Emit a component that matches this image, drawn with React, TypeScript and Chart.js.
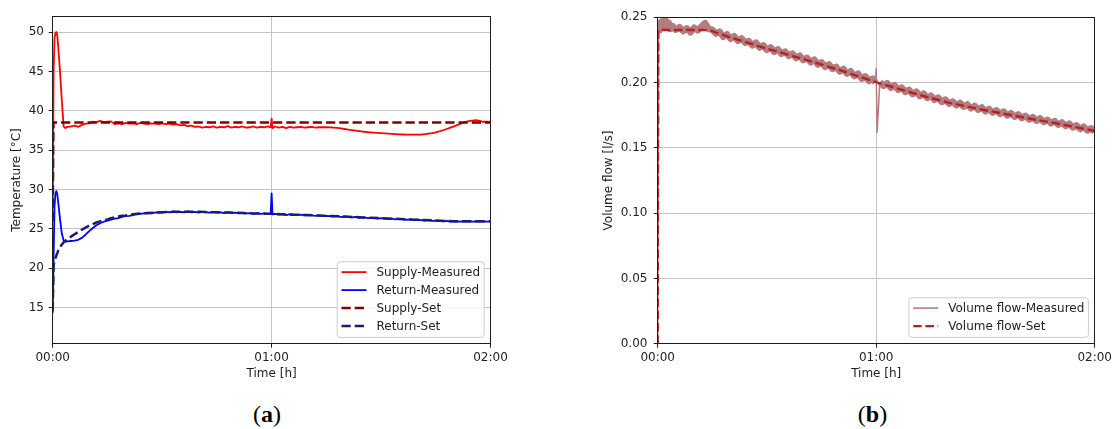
import React, { useEffect, useRef } from "react";
import { Chart, registerables } from "chart.js";
Chart.register(...registerables);

// ---------- data ----------
const TIME_MIN = [
  0, 0.25, 0.5, 0.75, 1, 1.25, 1.5, 2, 2.5, 3, 3.5, 4,
  5, 6, 7, 8, 9, 10, 11, 12, 13, 14,
  15, 16, 17, 18, 19, 20, 21, 22, 23, 24,
  25, 26, 27, 28, 29, 30, 31, 32, 33, 34,
  35, 36, 37, 38, 39, 40, 41, 42, 43, 44,
  45, 46, 47, 48, 49, 50, 51, 52, 53, 54,
  55, 56, 57, 58, 59, 59.75, 60, 60.25,
  61, 62, 63, 64, 65, 66, 67, 68, 69, 70,
  71, 72, 73, 74, 75, 76, 77, 78, 79, 80,
  81, 82, 83, 84, 85, 86, 87, 88, 89, 90,
  91, 92, 93, 94, 95, 96, 97, 98, 99, 100,
  101, 102, 103, 104, 105, 106, 107, 108, 109, 110,
  111, 112, 113, 114, 115, 116, 117, 118, 119, 120,
];

const SUPPLY_MEASURED = [
  26.0, 45.0, 49.2, 49.9, 50.0, 49.6, 48.2, 45.0, 41.3, 38.0, 37.8, 37.95,
  38.0, 38.1, 37.95, 38.2, 38.35, 38.4, 38.6, 38.55, 38.7, 38.55,
  38.6, 38.65, 38.3, 38.4, 38.3, 38.45, 38.35, 38.4, 38.3, 38.45,
  38.35, 38.3, 38.4, 38.35, 38.3, 38.4, 38.3, 38.35, 38.25, 38.3,
  38.15, 38.2, 38.05, 38.1, 37.95, 38.0, 37.85, 37.95, 37.9, 38.0,
  37.85, 37.95, 37.9, 38.05, 37.85, 37.95, 37.9, 38.0, 37.85, 37.9,
  38.0, 37.85, 37.95, 37.9, 38.0, 37.9, 39.0, 37.8,
  38.0, 37.85, 37.95, 37.8, 37.95, 37.85, 37.9, 37.95, 37.85, 37.9,
  37.95, 37.85, 37.9, 37.9, 37.9, 37.88, 37.85, 37.82, 37.75, 37.68,
  37.6, 37.55, 37.48, 37.42, 37.36, 37.3, 37.26, 37.22, 37.18, 37.15,
  37.12, 37.08, 37.05, 37.02, 37.0, 36.98, 36.97, 36.96, 36.96, 36.97,
  36.98, 37.02, 37.08, 37.15, 37.25, 37.38, 37.52, 37.68, 37.85, 38.02,
  38.2, 38.38, 38.55, 38.68, 38.75, 38.8, 38.7, 38.6, 38.62, 38.58,
];

const RETURN_MEASURED = [
  14.3, 21.5, 27.8, 29.5, 29.8, 29.4, 28.4, 26.3, 24.4, 23.5, 23.35, 23.4,
  23.45, 23.5, 23.6, 23.85, 24.25, 24.7, 25.1, 25.45, 25.7, 25.9,
  26.05, 26.15, 26.3, 26.35, 26.5, 26.6, 26.65, 26.75, 26.85, 26.9,
  26.95, 27.0, 26.95, 27.05, 27.1, 27.05, 27.15, 27.1, 27.2, 27.1,
  27.15, 27.1, 27.2, 27.1, 27.15, 27.05, 27.15, 27.1, 27.05, 27.15,
  27.05, 27.1, 27.0, 27.1, 27.0, 27.05, 26.95, 27.05, 26.95, 27.0,
  26.9, 27.0, 26.9, 26.95, 26.9, 26.9, 29.5, 26.85,
  26.9, 26.8, 26.85, 26.75, 26.85, 26.8, 26.75, 26.8, 26.7, 26.75,
  26.7, 26.65, 26.7, 26.6, 26.65, 26.6, 26.55, 26.6, 26.5, 26.55,
  26.5, 26.45, 26.5, 26.4, 26.45, 26.4, 26.35, 26.4, 26.3, 26.35,
  26.3, 26.25, 26.3, 26.2, 26.25, 26.2, 26.15, 26.2, 26.1, 26.15,
  26.1, 26.05, 26.1, 26.0, 26.05, 26.0, 25.95, 26.0, 25.9, 25.95,
  25.9, 25.95, 25.9, 25.95, 25.9, 25.95, 25.9, 25.95, 25.9, 25.95,
];

const SUPPLY_SET_TIME = [0, 0.2, 120];
const SUPPLY_SET = [26.0, 38.5, 38.5];

const RETURN_SET_TIME = [
  0, 0.25, 0.5, 1, 1.5, 2, 3, 4, 5, 6, 7, 8, 9, 10, 11, 12, 13, 14, 15, 16,
  17, 18, 19, 20, 22, 24, 26, 28, 30, 33, 36, 40, 45, 50, 55, 60, 65, 70, 75,
  80, 85, 90, 95, 100, 105, 110, 115, 120,
];
const RETURN_SET = [
  14.5, 20.4, 20.9, 21.6, 22.2, 22.7, 23.3, 23.7, 24.0, 24.3, 24.6, 24.9, 25.15,
  25.4, 25.6, 25.8, 25.95, 26.1, 26.2, 26.35, 26.45, 26.55, 26.65, 26.7, 26.85,
  26.95, 27.0, 27.05, 27.1, 27.15, 27.15, 27.15, 27.1, 27.05, 26.95, 26.9, 26.8,
  26.75, 26.65, 26.55, 26.45, 26.35, 26.25, 26.15, 26.05, 25.95, 25.95, 25.95,
];

const FLOW_MEASURED = [
  0, 0.238, 0.243, 0.246, 0.242, 0.247, 0.244, 0.249, 0.243, 0.246, 0.241, 0.2435,
  0.2405, 0.2425, 0.2395, 0.2415, 0.2385, 0.242, 0.24, 0.243, 0.2455, 0.241,
  0.2405, 0.2375, 0.239, 0.235, 0.237, 0.2335, 0.2355, 0.232, 0.2338, 0.2305,
  0.2318, 0.2285, 0.2305, 0.2268, 0.2285, 0.225, 0.227, 0.2235, 0.2255, 0.222,
  0.2238, 0.2205, 0.2222, 0.2188, 0.2206, 0.2172, 0.219, 0.2155, 0.2175, 0.2138,
  0.2155, 0.212, 0.214, 0.2105, 0.212, 0.2085, 0.2105, 0.2068, 0.2088, 0.205,
  0.2068, 0.203, 0.2048, 0.2012, 0.203, 0.2, 0.2108, 0.162,
  0.2005, 0.1975, 0.1995, 0.196, 0.198, 0.1945, 0.1962, 0.1928, 0.1945, 0.1912,
  0.193, 0.1897, 0.1915, 0.1882, 0.19, 0.1868, 0.1885, 0.1852, 0.187, 0.1838,
  0.1855, 0.1826, 0.1845, 0.1815, 0.1833, 0.1803, 0.1822, 0.1792, 0.181, 0.178,
  0.1798, 0.177, 0.1788, 0.176, 0.1778, 0.1748, 0.1766, 0.1738, 0.1756, 0.1728,
  0.1745, 0.1718, 0.1735, 0.1708, 0.1726, 0.1698, 0.1715, 0.1688, 0.1705, 0.1678,
  0.1695, 0.1667, 0.1685, 0.1656, 0.1673, 0.1645, 0.1662, 0.1634, 0.165, 0.1625,
];

const FLOW_SET_TIME = [0, 0.15, 14, 20, 30, 40, 50, 60, 70, 80, 90, 100, 110, 120];
const FLOW_SET = [0, 0.2403, 0.2403, 0.2345, 0.226, 0.218, 0.2095, 0.2003, 0.192, 0.1845, 0.1788, 0.1735, 0.1685, 0.163];

const X_TICKS = [0, 60, 120];
const X_TICK_LABELS = ["00:00", "01:00", "02:00"];
const TEMP_TICKS = [15, 20, 25, 30, 35, 40, 45, 50];
const TEMP_TICK_LABELS = ["15", "20", "25", "30", "35", "40", "45", "50"];
const FLOW_TICKS = [0, 0.05, 0.1, 0.15, 0.2, 0.25];
const FLOW_TICK_LABELS = ["0.00", "0.05", "0.10", "0.15", "0.20", "0.25"];

// ---------- styling ----------
const FONT = '"DejaVu Sans"';
const TEXT = "#1e1e1e";
const GRID = "#c4c4c4";
const CANVAS_H = 395;
const X_AXIS_H = 51.3;

Chart.defaults.font.family = FONT;
Chart.defaults.color = TEXT;

const pts = (xs: number[], ys: number[]) => xs.map((x, i) => ({ x, y: ys[i] }));

type LegendItem = { label: string; color: string; width: number; dash: number[] };

function frameLegendPlugin(items: LegendItem[]) {
  return {
    id: "frameLegend",
    afterDraw(chart: any) {
      const { ctx, chartArea: a } = chart;
      const al = (p: number) => Math.round(p - 0.5) + 0.5;
      ctx.save();
      ctx.strokeStyle = TEXT;
      ctx.lineWidth = 1;
      ctx.setLineDash([]);
      const l = al(a.left), r = al(a.right), t = al(a.top), b = al(a.bottom);
      ctx.strokeRect(l, t, r - l, b - t);

      ctx.font = `12px ${FONT}`;
      const textW = Math.max(...items.map((it) => ctx.measureText(it.label).width));
      const bw = 4.8 + 24 + 9.6 + textW + 5;
      const bh = 3.6 + 18 * items.length;
      const bx = a.right - 6.3 - bw;
      const by = a.bottom - 6.3 - bh;
      ctx.beginPath();
      ctx.roundRect(bx, by, bw, bh, 3);
      ctx.fillStyle = "rgba(255,255,255,0.85)";
      ctx.fill();
      ctx.strokeStyle = "#cccccc";
      ctx.stroke();
      items.forEach((it, i) => {
        const y = by + 10.3 + 18 * i;
        ctx.beginPath();
        ctx.strokeStyle = it.color;
        ctx.lineWidth = it.width;
        ctx.setLineDash(it.dash);
        ctx.moveTo(bx + 4.3, y);
        ctx.lineTo(bx + 29.3, y);
        ctx.stroke();
        ctx.setLineDash([]);
        ctx.fillStyle = TEXT;
        ctx.textBaseline = "middle";
        ctx.textAlign = "left";
        ctx.fillText(it.label, bx + 39.3, y + 0.5);
      });
      ctx.restore();
    },
  };
}

function xScale() {
  return {
    type: "linear",
    min: 0,
    max: 120,
    afterBuildTicks: (s: any) => {
      s.ticks = X_TICKS.map((v) => ({ value: v }));
    },
    afterFit: (s: any) => {
      s.height = X_AXIS_H;
    },
    ticks: {
      autoSkip: false,
      maxRotation: 0,
      padding: 3,
      color: TEXT,
      font: { size: 12 },
      callback: (_v: any, i: number) => X_TICK_LABELS[i],
    },
    grid: { color: GRID, lineWidth: 1, tickColor: TEXT, tickLength: 4, tickWidth: 1 },
    border: { display: false },
    title: {
      display: true,
      text: "Time [h]",
      color: TEXT,
      font: { size: 12 },
      padding: { top: 0, bottom: 13.8 },
    },
  };
}

function yScale(min: number, max: number, ticks: number[], labels: string[], width: number, pad: number, title: string, titlePad: number) {
  return {
    type: "linear",
    min,
    max,
    afterBuildTicks: (s: any) => {
      s.ticks = ticks.map((v) => ({ value: v }));
    },
    afterFit: (s: any) => {
      s.width = width;
    },
    ticks: {
      autoSkip: false,
      padding: pad,
      color: TEXT,
      font: { size: 12 },
      callback: (_v: any, i: number) => labels[i],
    },
    grid: { color: GRID, lineWidth: 1, tickColor: TEXT, tickLength: 4, tickWidth: 1 },
    border: { display: false },
    title: {
      display: true,
      text: title,
      color: TEXT,
      font: { size: 12 },
      padding: { top: titlePad, bottom: 0 },
    },
  };
}

const common = {
  responsive: false,
  animation: false,
  events: [],
  parsing: true,
  elements: { point: { radius: 0 }, line: { tension: 0, borderJoinStyle: "round", borderCapStyle: "butt" } },
  plugins: { legend: { display: false }, tooltip: { enabled: false } },
};

const spikeThin = (c: any) => {
  const x0 = c.p0.parsed.x, x1 = c.p1.parsed.x;
  if ((x0 >= 59.7 && x1 <= 61.01) || x1 <= 0.3) return 1.5;
  return undefined;
};

function tempConfig(): any {
  return {
    type: "line",
    data: {
      datasets: [
        { label: "Supply-Set", data: pts(SUPPLY_SET_TIME, SUPPLY_SET), borderColor: "#800000", borderWidth: 2.5, borderDash: [9.25, 4], fill: false },
        { label: "Return-Set", data: pts(RETURN_SET_TIME, RETURN_SET), borderColor: "#1c1c6e", borderWidth: 2.5, borderDash: [9.25, 4], fill: false },
        { label: "Supply-Measured", data: pts(TIME_MIN, SUPPLY_MEASURED), borderColor: "#ff0000", borderWidth: 1.8, fill: false },
        { label: "Return-Measured", data: pts(TIME_MIN, RETURN_MEASURED), borderColor: "#0000ff", borderWidth: 1.8, fill: false },
      ],
    },
    options: {
      ...common,
      layout: { padding: { left: 0, top: 16.3, right: 557 - 490.5, bottom: 0 } },
      scales: {
        x: xScale(),
        y: yScale(10.4, 52, TEMP_TICKS, TEMP_TICK_LABELS, 52.7, 4.7, "Temperature [°C]", 9.8),
      },
    },
    plugins: [
      frameLegendPlugin([
        { label: "Supply-Measured", color: "#ff0000", width: 1.8, dash: [] },
        { label: "Return-Measured", color: "#0000ff", width: 1.8, dash: [] },
        { label: "Supply-Set", color: "#800000", width: 2.5, dash: [9.25, 4] },
        { label: "Return-Set", color: "#1c1c6e", width: 2.5, dash: [9.25, 4] },
      ]),
    ],
  };
}

function flowConfig(): any {
  return {
    type: "line",
    data: {
      datasets: [
        { label: "Volume flow-Set", data: pts(FLOW_SET_TIME, FLOW_SET), borderColor: "#b22228", borderWidth: 2.4, borderDash: [8.5, 3.7], fill: false },
        {
          label: "Volume flow-Measured",
          data: pts(TIME_MIN, FLOW_MEASURED),
          borderColor: "#b47c7e",
          borderWidth: 6.5,
          fill: false,
          segment: { borderWidth: spikeThin },
        },
      ],
    },
    options: {
      ...common,
      layout: { padding: { left: 40.7, top: 17.3, right: 558 - 538.5, bottom: 0 } },
      scales: {
        x: xScale(),
        y: yScale(0, 0.25, FLOW_TICKS, FLOW_TICK_LABELS, 60, 6.3, "Volume flow [l/s]", 4.3),
      },
    },
    plugins: [
      frameLegendPlugin([
        { label: "Volume flow-Measured", color: "#b47c7e", width: 1.6, dash: [] },
        { label: "Volume flow-Set", color: "#b22228", width: 2.4, dash: [8.5, 3.7] },
      ]),
    ],
  };
}

function ChartCanvas({ make, left, width }: { make: () => any; left: number; width: number }) {
  const ref = useRef<HTMLCanvasElement | null>(null);
  useEffect(() => {
    const chart = new Chart(ref.current as HTMLCanvasElement, make());
    return () => chart.destroy();
  }, []);
  return (
    <canvas
      ref={ref}
      width={width}
      height={CANVAS_H}
      style={{ position: "absolute", left, top: 0, width, height: CANVAS_H, display: "block" }}
    />
  );
}

function SubLabel({ x, letter }: { x: number; letter: string }) {
  return (
    <div
      style={{
        position: "absolute",
        left: x,
        top: 401.5,
        transform: "translateX(-50%)",
        font: '24px "Liberation Serif"',
        lineHeight: 1,
        color: "#000",
        whiteSpace: "nowrap",
      }}
    >
      (<b>{letter}</b>)
    </div>
  );
}

export default function App() {
  return (
    <div style={{ position: "absolute", left: 0, top: 0, width: 1115, height: 429, background: "#fff", overflow: "hidden" }}>
      <ChartCanvas make={tempConfig} left={0} width={557} />
      <ChartCanvas make={flowConfig} left={557} width={558} />
      <SubLabel x={267} letter="a" />
      <SubLabel x={872.5} letter="b" />
    </div>
  );
}
